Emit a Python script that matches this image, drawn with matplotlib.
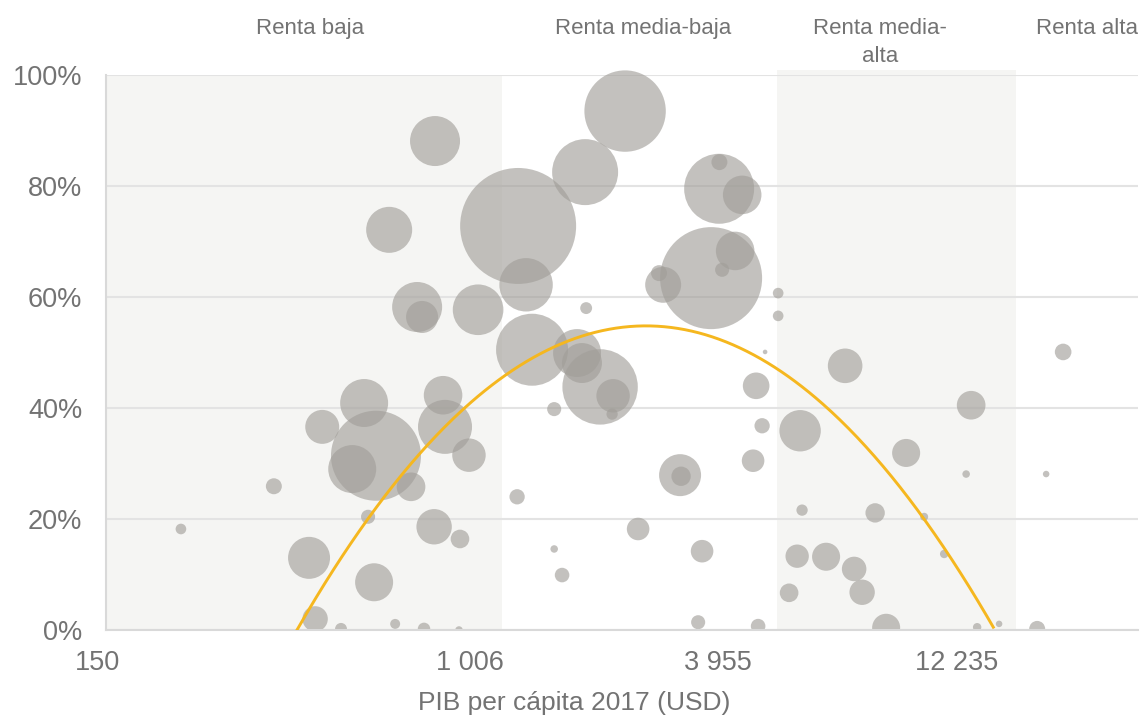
#!/usr/bin/env python3
"""Bubble chart: share by country against GDP per capita 2017 (log scale)."""

from __future__ import annotations

import matplotlib as mpl

mpl.use("Agg")
import matplotlib.pyplot as plt
import matplotlib.transforms as mtransforms
import numpy as np
from matplotlib.patches import Rectangle

# GDP per capita 2017 (USD), one entry per country
pib_pc = [
    660, 579, 465, 616, 544, 361, 591, 222, 434, 610,
    448, 513, 681, 839, 1296, 1840, 2268, 764, 784, 1051,
    1351, 1850, 2768, 2709, 1394, 1764, 1810, 1990, 2130, 2119,
    1565, 875, 884, 1002, 740, 835, 956, 792, 951, 1289,
    1565, 1631, 2428, 3024, 3040, 3710, 3715, 4185, 3557, 4034,
    3768, 5052, 5052, 4718, 4502, 4645, 4431, 5667, 7172, 9869,
    5725, 8391, 10845, 12042, 3393, 5580, 6492, 7518, 5350, 7839,
    3324, 4549, 8889, 22440, 13868, 13509, 20530, 14309, 16050, 19590,
]
# share (%) on the vertical axis
share = [
    72.1, 40.9, 36.6, 31.4, 29.0, 25.9, 20.4, 18.2, 13.0, 8.6,
    2.0, 0.2, 1.1, 88.1, 72.8, 82.5, 93.5, 58.2, 56.4, 57.7,
    62.2, 58.0, 62.2, 64.3, 50.5, 49.9, 48.1, 43.8, 42.2, 38.9,
    39.8, 42.3, 36.6, 31.5, 25.8, 18.6, 16.4, 0.2, 0.0, 24.0,
    14.6, 9.9, 18.2, 27.9, 27.7, 79.5, 84.3, 78.4, 63.4, 68.3,
    64.9, 60.7, 56.6, 50.1, 44.0, 36.8, 30.5, 35.9, 47.6, 31.9,
    21.6, 21.1, 20.4, 13.7, 14.2, 13.3, 13.2, 11.0, 6.7, 6.8,
    1.4, 0.7, 0.4, 50.1, 40.5, 28.1, 28.1, 0.5, 1.1, 0.2,
]
# population (millions), sets the bubble area
poblacion = [
    29.9, 32.5, 16.3, 114.4, 32.5, 3.6, 2.8, 1.6, 24.9, 20.4,
    9.1, 2.0, 1.4, 35.3, 190.0, 61.5, 93.6, 35.3, 14.5, 36.2,
    40.3, 2.0, 18.3, 3.6, 73.2, 32.5, 22.6, 80.3, 15.8, 1.8,
    2.8, 21.0, 41.2, 15.8, 11.6, 17.7, 4.9, 2.2, 0.8, 3.3,
    0.8, 3.0, 7.2, 24.9, 5.3, 69.2, 3.6, 21.0, 147.0, 21.0,
    2.8, 1.6, 1.6, 0.3, 10.0, 3.3, 7.2, 24.2, 16.9, 11.1,
    1.8, 5.3, 0.9, 1.0, 7.2, 7.7, 11.1, 8.5, 4.9, 9.1,
    2.8, 3.0, 11.1, 3.9, 11.6, 0.8, 0.6, 1.0, 0.6, 3.6,
]

# quadratic trend on log10(GDP per capita), highest degree first
trend_coefs = [-87.144, 593.10, -954.36]

income_groups = ["Renta baja", "Renta media-baja", "Renta media-\nalta", "Renta alta"]
shaded_bands = [(150, 1191), (5031, 17570)]
x_ticks = [150, 1006, 3955, 12235]
x_tick_labels = ["150", "1 006", "3 955", "12 235"]
y_ticks = [0, 20, 40, 60, 80, 100]

TEXT = "#737373"
BUBBLE = (0.63, 0.62, 0.60)


def create_figure(path: str) -> None:
    plt.rcParams["font.family"] = ["Liberation Sans", "DejaVu Sans"]
    fig = plt.figure(figsize=(11.42, 7.17), dpi=100)
    ax = fig.add_axes([106 / 1142, 87 / 717, 1032 / 1142, 555 / 717])

    ax.set_xscale("log")
    ax.set_xlim(150, 33200)
    ax.set_ylim(0, 100)

    # background bands for the income groups
    for i, (lo, hi) in enumerate(shaded_bands):
        band = ax.axvspan(lo, hi, ymin=0, ymax=1.0 if i == 0 else 1.009,
                          color="#f5f5f3", lw=0, zorder=0)
        band.set_clip_on(False)

    ax.yaxis.grid(True, color="#e3e3e3", lw=1.5, zorder=1)
    ax.set_axisbelow(True)

    sizes = np.array(poblacion) * 36.7
    pts = ax.scatter(pib_pc, share, s=sizes, color=BUBBLE, alpha=0.63,
                     linewidths=0, zorder=2)
    # bubbles are cut at the baseline but may spill over the top
    clip = Rectangle((0, 0), 1, 1.3, transform=ax.transAxes)
    pts.set_clip_path(clip)

    logx = np.linspace(np.log10(150), np.log10(33200), 600)
    trend = np.polyval(trend_coefs, logx)
    keep = trend >= 0
    ax.plot(10 ** logx[keep], trend[keep], color="#f5b71f", lw=2.1, zorder=3)

    for side in ("top", "right"):
        ax.spines[side].set_visible(False)
    for side in ("left", "bottom"):
        ax.spines[side].set_color("#d9d9d9")
        ax.spines[side].set_linewidth(1.5)

    ax.set_yticks(y_ticks)
    ax.set_yticklabels([f"{v}%" for v in y_ticks])
    ax.set_xticks(x_ticks)
    ax.set_xticklabels(x_tick_labels)
    ax.xaxis.set_minor_locator(mpl.ticker.NullLocator())
    ax.tick_params(axis="both", length=0, labelsize=19.5, labelcolor=TEXT)
    ax.tick_params(axis="y", pad=17)
    ax.tick_params(axis="x", pad=14.5)

    # nudge the threshold labels sideways
    shifts = [-5.8, 0, -10, 7]
    for label, dx in zip(ax.get_xticklabels(), shifts):
        offset = mtransforms.ScaledTranslation(dx / 72, 0, fig.dpi_scale_trans)
        label.set_transform(label.get_transform() + offset)

    ax.set_xlabel("PIB per cápita 2017 (USD)", fontsize=19, color=TEXT,
                  labelpad=11)
    ax.xaxis.label.set_x((574 - 106) / 1032)

    label_x = [310, 643, 880, 1087]
    for name, xp in zip(income_groups, label_x):
        fig.text(xp / 1142, 1 - 18 / 717, name, ha="center", va="top",
                 fontsize=16, color=TEXT, linespacing=1.45)

    fig.savefig(path, dpi=100)
    plt.close(fig)


def main() -> None:
    create_figure("out.png")


if __name__ == "__main__":
    main()
